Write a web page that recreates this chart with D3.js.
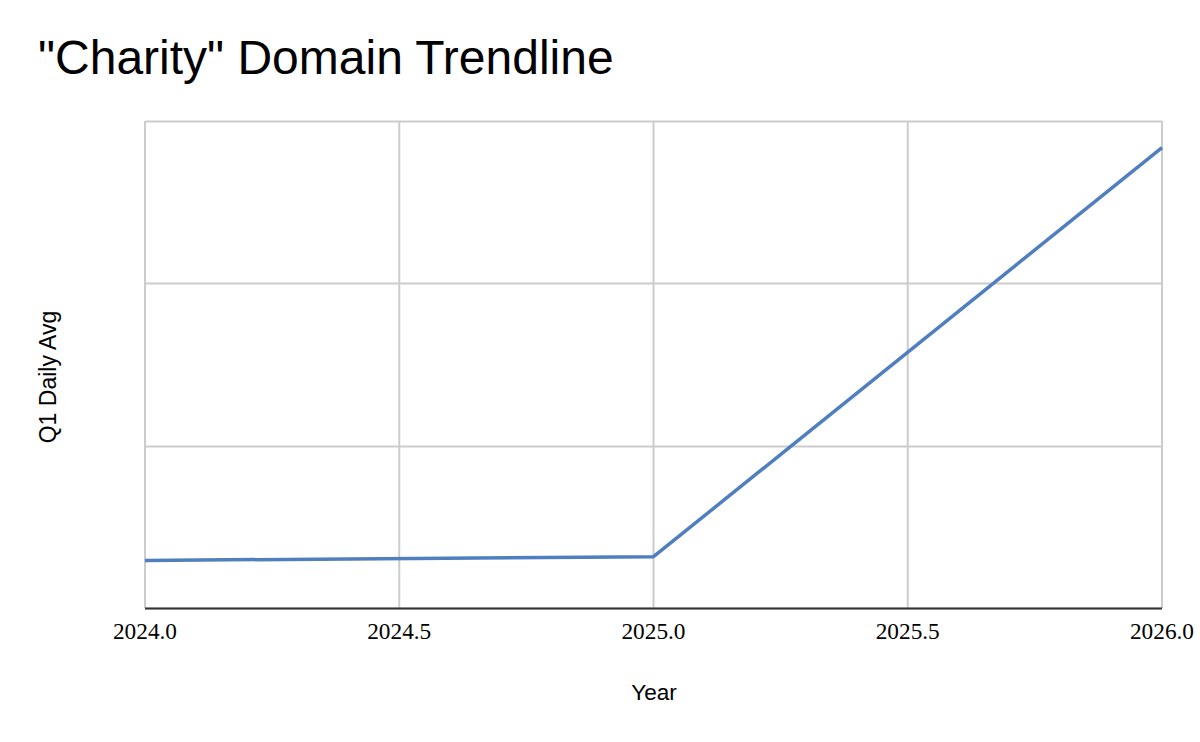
<!DOCTYPE html>
<html>
<head>
<meta charset="utf-8">
<script src="https://cdn.jsdelivr.net/npm/d3@7"></script>
<style>
  html, body { margin: 0; padding: 0; background: #fff; }
  svg { display: block; }
</style>
</head>
<body>
<svg id="chart" width="1200" height="742"></svg>
<script>
// ---- Data ----
const years = [2024, 2025, 2026];
const q1DailyAvg = [0.293, 0.316, 2.836];
const xTicks = [2024.0, 2024.5, 2025.0, 2025.5, 2026.0];
const yGridValues = [0, 1, 2, 3];
const titleText = '"Charity" Domain Trendline';
const xTitle = "Year";
const yTitle = "Q1 Daily Avg";

// ---- Layout ----
const svg = d3.select("#chart");
const plotLeft = 145, plotRight = 1162, plotTop = 121, plotBottom = 608;

const x = d3.scaleLinear().domain([2024, 2026]).range([plotLeft, plotRight]);
const y = d3.scaleLinear().domain([0, 3]).range([plotBottom, plotTop]);

// Title
svg.append("text")
  .attr("x", 38).attr("y", 74)
  .attr("font-family", "Arial, 'Liberation Sans', sans-serif")
  .attr("font-size", 48)
  .attr("fill", "#000")
  .text(titleText);

// Horizontal gridlines
svg.append("g").selectAll("line")
  .data(yGridValues)
  .join("line")
  .attr("x1", plotLeft).attr("x2", plotRight)
  .attr("y1", d => Math.round(y(d)) + 0.5).attr("y2", d => Math.round(y(d)) + 0.5)
  .attr("stroke", "#cccccc").attr("stroke-width", 2);

// Vertical gridlines
svg.append("g").selectAll("line")
  .data(xTicks)
  .join("line")
  .attr("x1", d => x(d)).attr("x2", d => x(d))
  .attr("y1", plotTop).attr("y2", plotBottom)
  .attr("stroke", "#cccccc").attr("stroke-width", 2);

// X axis baseline
svg.append("line")
  .attr("x1", plotLeft).attr("x2", plotRight)
  .attr("y1", plotBottom + 0.5).attr("y2", plotBottom + 0.5)
  .attr("stroke", "#333333").attr("stroke-width", 2);

// X tick labels
svg.append("g").selectAll("text")
  .data(xTicks)
  .join("text")
  .attr("x", d => x(d))
  .attr("y", 639)
  .attr("text-anchor", "middle")
  .attr("font-family", "'Times New Roman', 'Liberation Serif', serif")
  .attr("font-size", 23.3)
  .attr("fill", "#000")
  .text(d => d3.format(".1f")(d));

// Line
const line = d3.line().x((d, i) => x(years[i])).y(d => y(d));
svg.append("path")
  .datum(q1DailyAvg)
  .attr("d", line)
  .attr("fill", "none")
  .attr("stroke", "#4f7fbf")
  .attr("stroke-width", 3.5)
  .attr("stroke-linejoin", "round");

// Axis titles
svg.append("text")
  .attr("x", 654).attr("y", 700)
  .attr("text-anchor", "middle")
  .attr("font-family", "Arial, 'Liberation Sans', sans-serif")
  .attr("font-size", 22.6)
  .attr("fill", "#000")
  .text(xTitle);

svg.append("text")
  .attr("transform", "translate(56,377) rotate(-90)")
  .attr("text-anchor", "middle")
  .attr("font-family", "Arial, 'Liberation Sans', sans-serif")
  .attr("font-size", 23)
  .attr("fill", "#000")
  .text(yTitle);
</script>
</body>
</html>
